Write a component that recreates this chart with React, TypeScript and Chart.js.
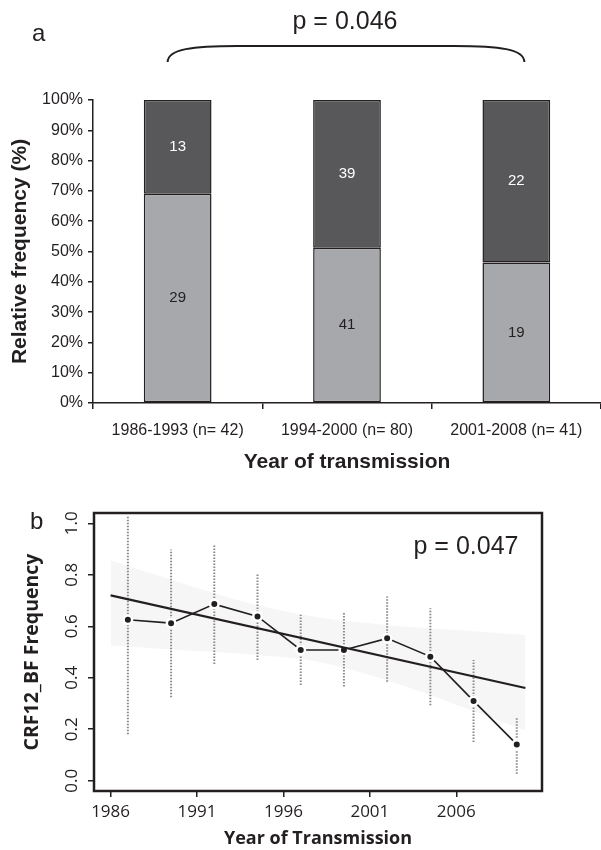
import React, { useEffect, useRef } from 'react';
import { Chart, registerables } from 'chart.js';

Chart.register(...registerables);

// ---------- Panel a data ----------
const periods = ['1986-1993', '1994-2000', '2001-2008'];
const lightCounts = [29, 41, 19];
const darkCounts = [13, 39, 22];
const yTicksA = [0, 10, 20, 30, 40, 50, 60, 70, 80, 90, 100];
const pTextA = 'p = 0.046';

// ---------- Panel b data ----------
const years = [1987, 1989.5, 1992, 1994.5, 1997, 1999.5, 2002, 2004.5, 2007, 2009.5];
const freq = [0.625, 0.612, 0.686, 0.638, 0.508, 0.508, 0.553, 0.482, 0.31, 0.141];
const ciLow = [0.18, 0.324, 0.453, 0.469, 0.372, 0.366, 0.384, 0.293, 0.15, 0.027];
const ciHigh = [1.03, 0.898, 0.92, 0.805, 0.645, 0.652, 0.716, 0.67, 0.469, 0.247];
const fitYears = [1986, 2010];
const fitValues = [0.72, 0.36];
const bandYears = [1986, 1990, 1994, 1998, 2002, 2006, 2010];
const bandUpper = [0.855, 0.77, 0.69, 0.635, 0.605, 0.585, 0.566];
const bandLower = [0.525, 0.508, 0.491, 0.462, 0.39, 0.295, 0.195];
const xTicksB = [1986, 1991, 1996, 2001, 2006];
const yTicksB = [0, 0.2, 0.4, 0.6, 0.8, 1.0];
const pTextB = 'p = 0.047';

const INK = '#231f20';
const SANS = '"Liberation Sans", Arial, sans-serif';
const OPEN = '"Open Sans", sans-serif';

function TopChart() {
  const ref = useRef<HTMLCanvasElement>(null);
  useEffect(() => {
    if (!ref.current) return;
    const totals = lightCounts.map((v, i) => v + darkCounts[i]);
    const labels = periods.map((p, i) => `${p} (n= ${totals[i]})`);
    const lightPct = lightCounts.map((v, i) => (v / totals[i]) * 100);
    const darkPct = darkCounts.map((v, i) => (v / totals[i]) * 100);
    const counts = [lightCounts, darkCounts];
    const labelColors = [INK, '#ffffff'];

    const valueLabels = {
      id: 'valueLabels',
      afterDatasetsDraw(chart: any) {
        const ctx = chart.ctx;
        ctx.save();
        ctx.font = `15px ${SANS}`;
        ctx.textAlign = 'center';
        ctx.textBaseline = 'middle';
        chart.data.datasets.forEach((_ds: any, i: number) => {
          const meta = chart.getDatasetMeta(i);
          meta.data.forEach((el: any, j: number) => {
            const { x, y, base } = el.getProps(['x', 'y', 'base'], true);
            ctx.fillStyle = labelColors[i];
            ctx.fillText(String(counts[i][j]), x, (y + base) / 2);
          });
        });
        ctx.restore();
      },
    };

    const header = {
      id: 'header',
      afterDraw(chart: any) {
        const ctx = chart.ctx;
        const xs = chart.scales.x;
        const first = xs.getPixelForValue(0);
        const mid = xs.getPixelForValue(1);
        const last = xs.getPixelForValue(2);
        const x1 = first - 10;
        const x2 = last + 8;
        const yTop = 46;
        const yEnd = 62;
        ctx.save();
        ctx.fillStyle = INK;
        ctx.textBaseline = 'middle';
        ctx.textAlign = 'left';
        ctx.font = `24px ${SANS}`;
        ctx.fillText('a', 32, 34);
        ctx.textAlign = 'center';
        ctx.font = `25px ${SANS}`;
        ctx.fillText(pTextA, mid - 2, 22);
        ctx.strokeStyle = INK;
        ctx.lineWidth = 2;
        ctx.beginPath();
        ctx.moveTo(x1, yEnd);
        ctx.bezierCurveTo(x1, yTop + 3, x1 + 25, yTop, x1 + 70, yTop);
        ctx.lineTo(x2 - 70, yTop);
        ctx.bezierCurveTo(x2 - 25, yTop, x2, yTop + 3, x2, yEnd);
        ctx.stroke();
        ctx.restore();
      },
    };

    const chart = new Chart(ref.current, {
      type: 'bar',
      data: {
        labels,
        datasets: [
          {
            label: 'light',
            data: lightPct,
            backgroundColor: '#a7a8ab',
            borderColor: INK,
            borderWidth: 1.5,
            borderSkipped: false,
            barPercentage: 0.4,
            categoryPercentage: 1,
          },
          {
            label: 'dark',
            data: darkPct,
            backgroundColor: '#58585b',
            borderColor: INK,
            borderWidth: 1.5,
            borderSkipped: false,
            barPercentage: 0.4,
            categoryPercentage: 1,
          },
        ],
      },
      options: {
        responsive: false,
        animation: false,
        layout: { padding: { top: 100, left: 0, right: 0, bottom: 0 } },
        plugins: { legend: { display: false }, tooltip: { enabled: false } },
        scales: {
          x: {
            stacked: true,
            grid: { offset: true, drawOnChartArea: false, drawTicks: true, tickLength: 6, color: INK, lineWidth: 1.5 },
            border: { color: INK, width: 1.5 },
            ticks: { color: INK, font: { family: SANS, size: 16 }, padding: 12, maxRotation: 0, autoSkip: false },
            title: {
              display: true,
              text: 'Year of transmission',
              color: INK,
              font: { family: SANS, size: 21, weight: 'bold' },
              padding: { top: 0, bottom: 15 },
            },
            afterFit(s: any) {
              s.height = 87;
            },
          },
          y: {
            stacked: true,
            min: 0,
            max: 100,
            afterBuildTicks(s: any) {
              s.ticks = yTicksA.map((v) => ({ value: v }));
            },
            ticks: { color: INK, font: { family: SANS, size: 16 }, padding: 5, callback: (v: any) => `${v}%` },
            grid: { drawOnChartArea: false, drawTicks: true, tickLength: 5, color: INK, lineWidth: 1.5 },
            border: { color: INK, width: 1.5 },
            title: {
              display: true,
              text: 'Relative frequency (%)',
              color: INK,
              font: { family: SANS, size: 21, weight: 'bold' },
              padding: { top: 8, bottom: 0 },
            },
            afterFit(s: any) {
              s.width = 93;
            },
          },
        },
      } as any,
      plugins: [valueLabels, header],
    });
    return () => chart.destroy();
  }, []);
  return (
    <canvas
      ref={ref}
      width={601}
      height={490}
      style={{ position: 'absolute', left: 0, top: 0, display: 'block' }}
    />
  );
}

function BottomChart() {
  const ref = useRef<HTMLCanvasElement>(null);
  useEffect(() => {
    if (!ref.current) return;
    const errData: any[] = [];
    years.forEach((yr, i) => {
      errData.push({ x: yr, y: ciLow[i] }, { x: yr, y: ciHigh[i] }, { x: yr, y: null });
    });

    const frame = {
      id: 'frame',
      afterDraw(chart: any) {
        const ctx = chart.ctx;
        const { left, top, right, bottom } = chart.chartArea;
        ctx.save();
        ctx.strokeStyle = INK;
        ctx.lineWidth = 2.5;
        ctx.strokeRect(left, top, right - left, bottom - top);
        ctx.fillStyle = INK;
        ctx.textBaseline = 'middle';
        ctx.textAlign = 'left';
        ctx.font = `24px ${SANS}`;
        ctx.fillText('b', 30, 32);
        ctx.textAlign = 'center';
        ctx.font = `25px ${SANS}`;
        ctx.fillText(pTextB, 466, 57);
        ctx.restore();
      },
    };

    const chart = new Chart(ref.current, {
      type: 'line',
      data: {
        datasets: [
          {
            label: 'band lower',
            data: bandYears.map((x, i) => ({ x, y: bandLower[i] })),
            borderColor: 'rgba(0,0,0,0)',
            borderWidth: 1,
            pointRadius: 0,
            fill: false,
            cubicInterpolationMode: 'monotone',
            order: 10,
          },
          {
            label: 'band upper',
            data: bandYears.map((x, i) => ({ x, y: bandUpper[i] })),
            borderColor: 'rgba(0,0,0,0)',
            borderWidth: 1,
            pointRadius: 0,
            fill: '-1',
            backgroundColor: '#f6f6f6',
            cubicInterpolationMode: 'monotone',
            order: 9,
          },
          {
            label: 'ci',
            data: errData,
            borderColor: '#8a8a8a',
            borderWidth: 2,
            borderDash: [1.5, 1.5],
            pointRadius: 0,
            spanGaps: false,
            fill: false,
            order: 5,
          },
          {
            label: 'frequency',
            data: years.map((x, i) => ({ x, y: freq[i] })),
            borderColor: INK,
            borderWidth: 1.6,
            pointRadius: 4.25,
            pointBackgroundColor: INK,
            pointBorderColor: '#ffffff',
            pointBorderWidth: 2.5,
            fill: false,
            order: 2,
          },
          {
            label: 'fit',
            data: fitYears.map((x, i) => ({ x, y: fitValues[i] })),
            borderColor: INK,
            borderWidth: 2.2,
            pointRadius: 0,
            fill: false,
            order: 1,
          },
        ],
      },
      options: {
        responsive: false,
        animation: false,
        layout: { padding: { top: 23, left: 0, right: 59, bottom: 0 } },
        plugins: { legend: { display: false }, tooltip: { enabled: false } },
        scales: {
          x: {
            type: 'linear',
            min: 1985.04,
            max: 2010.96,
            afterBuildTicks(s: any) {
              s.ticks = xTicksB.map((v) => ({ value: v }));
            },
            ticks: { color: INK, font: { family: OPEN, size: 17 }, padding: 5, maxRotation: 0, callback: (v: any) => String(v) },
            grid: { drawOnChartArea: false, drawTicks: true, tickLength: 6, color: INK, lineWidth: 1.5 },
            border: { display: false },
            title: {
              display: true,
              text: 'Year of Transmission',
              color: INK,
              font: { family: OPEN, size: 18, weight: 'bold' },
              padding: { top: 0, bottom: 0 },
            },
            afterFit(s: any) {
              s.height = 59;
            },
          },
          y: {
            type: 'linear',
            min: -0.04,
            max: 1.04,
            afterBuildTicks(s: any) {
              s.ticks = yTicksB.map((v) => ({ value: v }));
            },
            ticks: {
              color: INK,
              font: { family: OPEN, size: 17 },
              padding: 4,
              minRotation: 90,
              maxRotation: 90,
              crossAlign: 'center',
              callback: (v: any) => Number(v).toFixed(1),
            },
            grid: { drawOnChartArea: false, drawTicks: true, tickLength: 6, color: INK, lineWidth: 1.5 },
            border: { display: false },
            title: {
              display: true,
              text: 'CRF12_BF Frequency',
              color: INK,
              font: { family: OPEN, size: 19.5, weight: 'bold' },
              padding: { top: 21, bottom: 0 },
            },
            afterFit(s: any) {
              s.width = 94;
            },
          },
        },
      } as any,
      plugins: [frame],
    });
    return () => chart.destroy();
  }, []);
  return (
    <canvas
      ref={ref}
      width={601}
      height={360}
      style={{ position: 'absolute', left: 0, top: 490, display: 'block' }}
    />
  );
}

export default function App() {
  return (
    <div style={{ position: 'absolute', left: 0, top: 0, width: 601, height: 850, background: '#ffffff', overflow: 'hidden' }}>
      <TopChart />
      <BottomChart />
    </div>
  );
}
